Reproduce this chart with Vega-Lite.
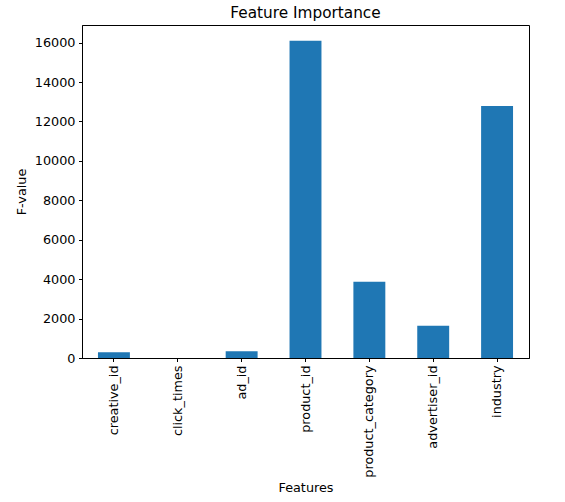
{
  "$schema": "https://vega.github.io/schema/vega-lite/v6.json",
  "autosize": {"type": "none"},
  "padding": {"left": 82, "top": 25, "right": 36, "bottom": 144},
  "width": 447,
  "height": 333,
  "background": "white",
  "title": {"text": "Feature Importance", "font": "DejaVu Sans", "fontSize": 15.3, "fontWeight": "normal", "color": "black", "offset": 4},
  "data": {"values": [
    {"feature": "creative_id", "fvalue": 290},
    {"feature": "click_times", "fvalue": 3},
    {"feature": "ad_id", "fvalue": 340},
    {"feature": "product_id", "fvalue": 16090},
    {"feature": "product_category", "fvalue": 3870},
    {"feature": "advertiser_id", "fvalue": 1640},
    {"feature": "industry", "fvalue": 12790}
  ]},
  "mark": {"type": "bar", "color": "#1f77b4"},
  "encoding": {
    "x": {"field": "feature", "type": "nominal", "sort": null,
      "scale": {"paddingInner": 0.5, "paddingOuter": 0.25},
      "axis": {"title": "Features", "labelAngle": -90, "titlePadding": 4}},
    "y": {"field": "fvalue", "type": "quantitative",
      "scale": {"domain": [0, 16895], "nice": false},
      "axis": {"title": "F-value", "values": [0, 2000, 4000, 6000, 8000, 10000, 12000, 14000, 16000], "format": "d", "titlePadding": 6}}
  },
  "config": {
    "view": {"stroke": "black", "strokeWidth": 1},
    "axis": {
      "grid": false,
      "domainColor": "black",
      "tickColor": "black",
      "tickSize": 3.5,
      "labelPadding": 3.5,
      "labelFont": "DejaVu Sans",
      "labelFontSize": 12.8,
      "labelColor": "black",
      "titleFont": "DejaVu Sans",
      "titleFontSize": 12.8,
      "titleFontWeight": "normal",
      "titleColor": "black"
    }
  }
}
